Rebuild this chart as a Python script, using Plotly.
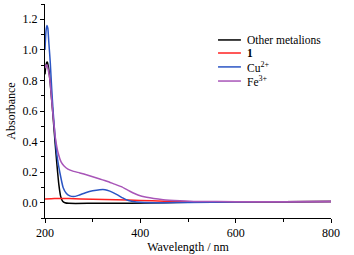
import plotly.graph_objects as go

# Data
wl_black = [200, 202, 204, 205, 207, 210.5, 213, 216, 219, 221, 225, 229, 233, 237, 242, 250, 300, 380, 450, 500, 600, 700, 800]
ab_black = [0.84, 0.90, 0.92, 0.92, 0.89, 0.80, 0.71, 0.60, 0.48, 0.40, 0.25, 0.12, 0.04, 0.01, 0.0, -0.004, -0.004, -0.003, 0.0, 0.003, 0.006, 0.007, 0.008]

wl_red = [200, 220, 250, 300, 350, 400, 450, 500, 600, 700, 800]
ab_red = [0.025, 0.028, 0.027, 0.022, 0.019, 0.015, 0.010, 0.007, 0.006, 0.007, 0.008]

wl_blue = [200, 202, 204, 206, 208, 211, 214, 217, 222, 226, 231, 238, 245, 252, 260, 270, 285, 300, 315, 326, 336, 350, 364, 375, 385, 400, 450, 500, 600, 700, 800]
ab_blue = [1.00, 1.12, 1.16, 1.14, 1.05, 0.92, 0.75, 0.60, 0.40, 0.29, 0.20, 0.10, 0.06, 0.045, 0.04, 0.048, 0.065, 0.078, 0.085, 0.085, 0.076, 0.055, 0.03, 0.015, 0.008, 0.003, 0.0, 0.002, 0.005, 0.007, 0.008]

wl_purple = [200, 202, 204, 206, 210, 216, 222, 228, 234, 240, 248, 260, 273, 290, 310, 330, 343, 360, 378, 395, 413, 448, 483, 520, 600, 700, 800]
ab_purple = [0.88, 0.90, 0.90, 0.88, 0.81, 0.60, 0.42, 0.32, 0.265, 0.24, 0.22, 0.205, 0.195, 0.18, 0.16, 0.14, 0.125, 0.105, 0.075, 0.05, 0.035, 0.02, 0.013, 0.008, 0.007, 0.007, 0.008]

series_names = ["Other metalions", "<b>1</b>", "Cu<sup>2+</sup>", "Fe<sup>3+</sup>"]
colors = ["#000000", "#ff2020", "#2b55c4", "#a855b8"]

SERIF = "Liberation Serif, Times New Roman, serif"

fig = go.Figure()
for (x, y), c in zip([(wl_black, ab_black), (wl_red, ab_red), (wl_blue, ab_blue), (wl_purple, ab_purple)], colors):
    fig.add_trace(go.Scatter(x=x, y=y, mode="lines", line=dict(color=c, width=1.5, shape="spline", smoothing=0.5), showlegend=False))

# custom legend
leg_y = [0.832, 0.771, 0.706, 0.640]
for name, c, yy in zip(series_names, colors, leg_y):
    fig.add_shape(type="line", xref="paper", yref="paper", x0=0.605, x1=0.685, y0=yy, y1=yy,
                  line=dict(color=c, width=1.5))
    fig.add_annotation(xref="paper", yref="paper", x=0.698, y=yy, text=name, showarrow=False,
                       xanchor="left", yanchor="middle", font=dict(size=11.5, color="black", family=SERIF))

axis_common = dict(showline=True, linecolor="black", linewidth=1, ticks="outside", ticklen=4, tickwidth=1,
                   tickcolor="black", showgrid=False, zeroline=False, mirror=False, automargin=False,
                   tickfont=dict(size=12, color="black", family=SERIF))

fig.update_layout(
    width=354, height=255,
    margin=dict(l=45, r=23, t=4, b=37),
    paper_bgcolor="white", plot_bgcolor="white",
    font=dict(family=SERIF, size=12, color="black"),
    xaxis=dict(range=[200, 800], tickvals=[200, 400, 600, 800],
               minor=dict(tickvals=[300, 500, 700], ticks="outside", ticklen=3, tickcolor="black"),
               title=dict(text="Wavelength / nm", standoff=0, font=dict(size=12, family=SERIF)), **axis_common),
    yaxis=dict(range=[-0.1, 1.3], tickvals=[0, 0.2, 0.4, 0.6, 0.8, 1.0, 1.2], tickformat=".1f",
               minor=dict(tickvals=[-0.1, 0.1, 0.3, 0.5, 0.7, 0.9, 1.1, 1.3], ticks="outside", ticklen=3, tickcolor="black"),
               title=dict(text="Absorbance", standoff=4, font=dict(size=12, family=SERIF)), **axis_common),
)

fig.write_html("out.html", config={"displayModeBar": False}, post_script="document.body.style.margin='0';")
